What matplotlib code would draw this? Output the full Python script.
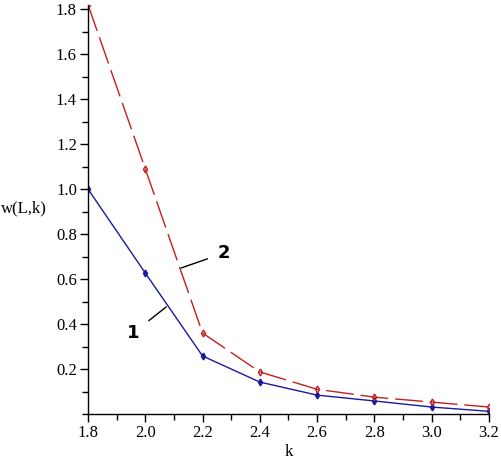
import matplotlib
matplotlib.use("Agg")
import matplotlib.pyplot as plt
from matplotlib.ticker import MultipleLocator

k = [1.8, 2.0, 2.2, 2.4, 2.6, 2.8, 3.0, 3.2]
w1 = [1.0, 0.627, 0.258, 0.142, 0.084, 0.058, 0.031, 0.012]
w2 = [1.82, 1.09, 0.36, 0.187, 0.11, 0.075, 0.053, 0.031]
xticks = [1.8, 2.0, 2.2, 2.4, 2.6, 2.8, 3.0, 3.2]
yticks = [0.2, 0.4, 0.6, 0.8, 1.0, 1.2, 1.4, 1.6, 1.8]

plt.rcParams['font.family'] = ['Liberation Serif', 'DejaVu Serif']

fig = plt.figure(figsize=(5.01, 4.59), dpi=100)
ax = fig.add_axes([0.1756, 0.098, 0.8004, 0.892])

ax.plot(k, w1, color='#1a1aa0', lw=1.0, marker='d', ms=3.5,
        mfc='#1a1aa0', mec='#1a1aa0')
ax.plot(k, w2, color='#c41e1e', lw=1.0, ls=(0, (20, 5)), marker='d', ms=3.5,
        mfc='none', mec='#c41e1e')

ax.set_xlim(1.8, 3.2)
ax.set_ylim(0, 1.82)
ax.set_xticks(xticks)
ax.set_xticklabels([f"{v:.1f}" for v in xticks])
ax.set_yticks(yticks)
ax.set_yticklabels([f"{v:.1f}" for v in yticks])
ax.xaxis.set_minor_locator(MultipleLocator(0.1))
ax.yaxis.set_minor_locator(MultipleLocator(0.1))
ax.tick_params(which='major', direction='out', length=6, width=1, labelsize=12, pad=2)
ax.tick_params(which='minor', direction='out', length=4, width=1)
for s in ['top', 'right']:
    ax.spines[s].set_visible(False)
for s in ['left', 'bottom']:
    ax.spines[s].set_linewidth(1.0)

ax.set_xlabel('k', fontsize=12, labelpad=2)
fig.text(0.048, 0.547, 'w(L,k)', fontsize=12, ha='center', va='center')

ax.annotate('1', xy=(2.073, 0.476), xytext=(1.958, 0.36),
            fontsize=13, fontweight='bold', family='DejaVu Sans',
            ha='center', va='center',
            arrowprops=dict(arrowstyle='-', color='black', lw=1.0, shrinkA=6, shrinkB=0))
ax.annotate('2', xy=(2.125, 0.649), xytext=(2.276, 0.716),
            fontsize=13, fontweight='bold', family='DejaVu Sans',
            ha='center', va='center',
            arrowprops=dict(arrowstyle='-', color='black', lw=1.0, shrinkA=6, shrinkB=0))

fig.savefig('out.png', dpi=100)
